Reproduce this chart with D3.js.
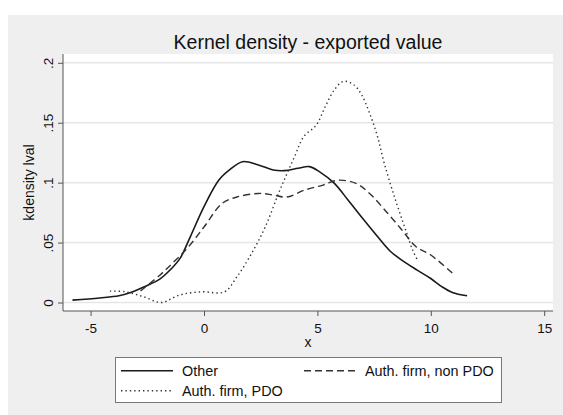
<!DOCTYPE html>
<html>
<head>
<meta charset="utf-8">
<script src="https://cdn.jsdelivr.net/npm/d3@7"></script>
<style>
  body { margin: 0; background: #fff; }
  text { font-family: Arial, "Liberation Sans", sans-serif; fill: #111; }
</style>
</head>
<body>
<div id="chart"></div>
<script>
// series values (x, density)
var otherX = [-5.8, -4.6, -3.75, -3.2, -2.65, -1.95, -1.45, -1.05, -0.6, 0, 0.65, 1.15, 1.7, 2.4, 3.05, 3.55, 4.15, 4.65, 5.1, 5.75, 6.35, 7.0, 7.65, 8.2, 8.75, 9.4, 10.0, 10.5, 10.95, 11.6];
var otherY = [0.002, 0.0038, 0.0056, 0.0085, 0.013, 0.0195, 0.028, 0.037, 0.055, 0.080, 0.102, 0.111, 0.1175, 0.1148, 0.1106, 0.110, 0.112, 0.1134, 0.109, 0.0994, 0.0855, 0.070, 0.055, 0.043, 0.035, 0.027, 0.020, 0.013, 0.0084, 0.0056];

var nonPdoX = [-2.8, -1.95, -1.4, -0.75, 0, 0.8, 1.45, 2.4, 3.05, 3.65, 4.45, 5.25, 5.9, 6.7, 7.3, 8.1, 8.75, 9.35, 10.0, 11.05];
var nonPdoY = [0.0096, 0.0228, 0.0326, 0.045, 0.063, 0.0827, 0.088, 0.091, 0.0897, 0.088, 0.0939, 0.098, 0.102, 0.0994, 0.091, 0.0744, 0.060, 0.0465, 0.0396, 0.0228];

var pdoX = [-4.15, -3.45, -2.65, -1.87, -1.1, -0.15, 0.9, 1.45, 2.1, 2.7, 3.35, 4.0, 4.4, 4.95, 5.35, 5.75, 6.15, 6.6, 6.95, 7.3, 7.65, 7.95, 8.4, 8.9, 9.2, 9.45];
var pdoY = [0.0095, 0.0089, 0.0047, 0.0, 0.0061, 0.0089, 0.0089, 0.0214, 0.041, 0.063, 0.094, 0.122, 0.1385, 0.148, 0.1636, 0.1775, 0.1845, 0.1817, 0.1733, 0.158, 0.1385, 0.116, 0.088, 0.060, 0.0437, 0.034];

var seriesNames = ["Other", "Auth. firm, non PDO", "Auth. firm, PDO"];
var xTicks = [-5, 0, 5, 10, 15];
var xTickLabels = ["-5", "0", "5", "10", "15"];
var yTicks = [0, 0.05, 0.1, 0.15, 0.2];
var yTickLabels = ["0", ".05", ".1", ".15", ".2"];

var W = 563, H = 415;
var plot = { left: 63, right: 553, top: 54, bottom: 311 };

var x = d3.scaleLinear().domain([-5, 15]).range([90.6, 544.2]);
var y = d3.scaleLinear().domain([0, 0.2]).range([302.5, 62.8]);

var svg = d3.select("#chart").append("svg")
  .attr("width", W)
  .attr("height", H);

// outer grey area
svg.append("rect")
  .attr("x", 8).attr("y", 15)
  .attr("width", W - 8).attr("height", H - 15)
  .attr("fill", "#efefef");

// plot region
svg.append("rect")
  .attr("x", plot.left).attr("y", plot.top)
  .attr("width", plot.right - plot.left)
  .attr("height", plot.bottom - plot.top)
  .attr("fill", "#fff");

// grid lines
svg.selectAll(".grid")
  .data(yTicks)
  .enter().append("line")
  .attr("class", "grid")
  .attr("x1", plot.left).attr("x2", plot.right)
  .attr("y1", function(d) { return y(d); })
  .attr("y2", function(d) { return y(d); })
  .attr("stroke", "#e6e6e6")
  .attr("stroke-width", 1.5);

// title
svg.append("text")
  .attr("x", (plot.left + plot.right) / 2)
  .attr("y", 49)
  .attr("text-anchor", "middle")
  .style("font-size", "19.5px")
  .text("Kernel density - exported value");

// y axis
var yAxis = d3.axisLeft(y).tickValues(yTicks)
  .tickFormat(function(d, i) { return yTickLabels[i]; })
  .tickSize(5).tickPadding(5);
var gy = svg.append("g")
  .attr("transform", "translate(" + plot.left + ",0)")
  .call(yAxis);
gy.select(".domain").remove();
gy.append("line")
  .attr("x1", 0).attr("x2", 0)
  .attr("y1", plot.top).attr("y2", plot.bottom)
  .attr("stroke", "#555");
gy.selectAll(".tick line").attr("stroke", "#555");
gy.selectAll(".tick text")
  .attr("x", null).attr("dy", null)
  .attr("transform", "translate(-10,0) rotate(-90)")
  .attr("text-anchor", "middle")
  .attr("y", 0)
  .style("font-size", "13.5px")
  .style("font-family", "Arial, 'Liberation Sans', sans-serif")
  .attr("fill", "#111");

// x axis
var xAxis = d3.axisBottom(x).tickValues(xTicks)
  .tickFormat(function(d, i) { return xTickLabels[i]; })
  .tickSize(5).tickPadding(7);
var gx = svg.append("g")
  .attr("transform", "translate(0," + plot.bottom + ")")
  .call(xAxis);
gx.select(".domain").remove();
gx.append("line")
  .attr("x1", plot.left).attr("x2", plot.right)
  .attr("y1", 0).attr("y2", 0)
  .attr("stroke", "#555");
gx.selectAll(".tick line").attr("stroke", "#555");
gx.selectAll(".tick text")
  .style("font-size", "13.5px")
  .style("font-family", "Arial, 'Liberation Sans', sans-serif")
  .attr("fill", "#111");

// axis titles
svg.append("text")
  .attr("x", (plot.left + plot.right) / 2)
  .attr("y", 347)
  .attr("text-anchor", "middle")
  .style("font-size", "14px")
  .text("x");

svg.append("text")
  .attr("transform", "translate(34," + ((plot.top + plot.bottom) / 2) + ") rotate(-90)")
  .attr("text-anchor", "middle")
  .style("font-size", "14px")
  .text("kdensity lval");

// lines
var styles = [
  { color: "#1a1a1a", dash: null, width: 1.6 },
  { color: "#333", dash: "7,4", width: 1.4 },
  { color: "#333", dash: "1.4,3", width: 1.4 }
];

var data = [
  d3.zip(otherX, otherY),
  d3.zip(nonPdoX, nonPdoY),
  d3.zip(pdoX, pdoY)
];

var line = d3.line()
  .curve(d3.curveCatmullRom.alpha(0.5))
  .x(function(d) { return x(d[0]); })
  .y(function(d) { return y(d[1]); });

svg.selectAll(".series")
  .data(data)
  .enter().append("path")
  .attr("class", "series")
  .attr("d", line)
  .attr("fill", "none")
  .attr("stroke", function(d, i) { return styles[i].color; })
  .attr("stroke-width", function(d, i) { return styles[i].width; })
  .attr("stroke-dasharray", function(d, i) { return styles[i].dash; });

// legend
var legend = svg.append("g");
legend.append("rect")
  .attr("x", 115.5).attr("y", 357.5)
  .attr("width", 386).attr("height", 45)
  .attr("fill", "#fff")
  .attr("stroke", "#777");

var legendPos = [
  { lx: 121, ly: 370.7 },
  { lx: 304, ly: 370.7 },
  { lx: 121, ly: 390.7 }
];

var items = legend.selectAll(".item")
  .data(seriesNames)
  .enter().append("g")
  .attr("class", "item");

items.append("line")
  .attr("x1", function(d, i) { return legendPos[i].lx; })
  .attr("x2", function(d, i) { return legendPos[i].lx + 52; })
  .attr("y1", function(d, i) { return legendPos[i].ly; })
  .attr("y2", function(d, i) { return legendPos[i].ly; })
  .attr("stroke", function(d, i) { return styles[i].color; })
  .attr("stroke-width", function(d, i) { return styles[i].width; })
  .attr("stroke-dasharray", function(d, i) { return styles[i].dash; });

items.append("text")
  .attr("x", function(d, i) { return legendPos[i].lx + 61; })
  .attr("y", function(d, i) { return legendPos[i].ly + 5; })
  .style("font-size", "14.4px")
  .text(function(d) { return d; });
</script>
</body>
</html>
